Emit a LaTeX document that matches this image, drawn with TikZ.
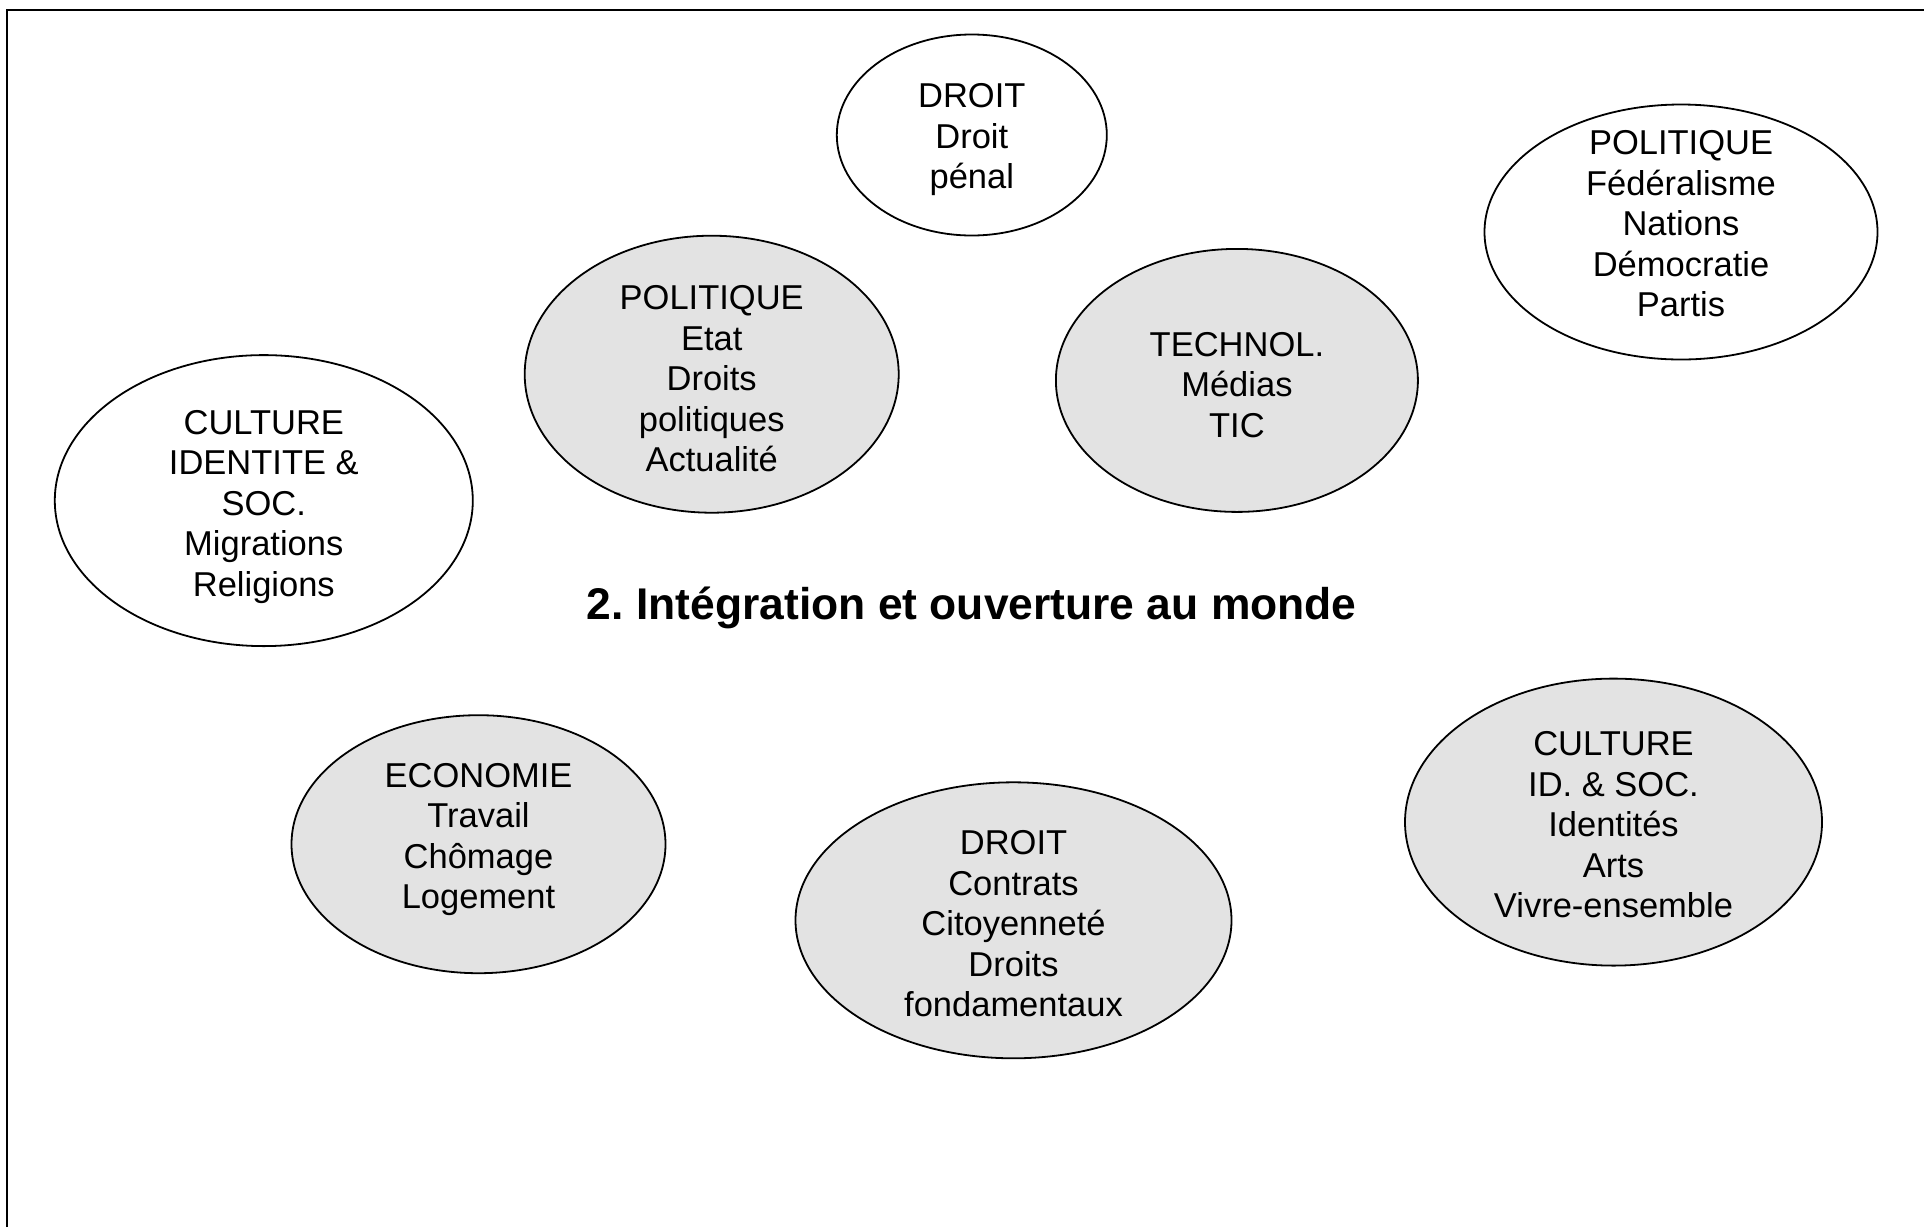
\documentclass[tikz,border=0pt]{standalone}
\usepackage{fontspec}
\setmainfont{Liberation Sans}
\usetikzlibrary{shapes.geometric}
\frenchspacing

\begin{document}
\begin{tikzpicture}[
        x=1pt, y=-1pt, % One unit is one pixel of the scan, y grows downwards
        % Define a style for the plain ellipses
        open_bubble/.style={ellipse,draw,line width=1.8pt,inner sep=0pt},
        % Define a style for the shaded ellipses
        shaded_bubble/.style={open_bubble,fill=black!11},
        % Define a style for the words inside the ellipses
        bubble_text/.style={align=center,inner sep=0pt,yshift=-3.5pt,font=\fontsize{34.5}{40.5}\selectfont},
        % Define a style for the title in the middle
        title_text/.style={inner sep=0pt,font=\bfseries\fontsize{44.4}{50}\selectfont}
    ]

    % Fix the size of the page
    \useasboundingbox (0,0) rectangle (1924,1227);

    % Draw the frame (only top and left edges are visible)
    \coordinate (frame_bl) at (7,1227);
    \coordinate (frame_tl) at (7,10);
    \coordinate (frame_tr) at (1924,10);
    \draw[line width=2.5pt] (frame_bl) -- (frame_tl) -- (frame_tr);

    % Draw the plain ellipses
    \node[open_bubble,minimum width=270pt,minimum height=201pt] (droit_top) at (971.8,135) {};
    \node[open_bubble,minimum width=393pt,minimum height=255pt] (politique_right) at (1681,232) {};
    \node[open_bubble,minimum width=418pt,minimum height=291pt] (culture_left) at (263.8,500.6) {};

    % Draw the shaded ellipses
    \node[shaded_bubble,minimum width=374pt,minimum height=277pt] (politique_mid) at (711.7,374.2) {};
    \node[shaded_bubble,minimum width=362pt,minimum height=263pt] (technol) at (1236.9,380.4) {};
    \node[shaded_bubble,minimum width=374pt,minimum height=258pt] (economie) at (478.5,844.2) {};
    \node[shaded_bubble,minimum width=436pt,minimum height=276pt] (droit_bottom) at (1013.5,920.3) {};
    \node[shaded_bubble,minimum width=417pt,minimum height=287pt] (culture_right) at (1613.5,822.1) {};

    % Put the words in the ellipses
    \node[bubble_text] (droit_top_txt) at (971.8,136.2) {DROIT\\Droit\\pénal};
    \node[bubble_text] (politique_right_txt) at (1681,220.5) {POLITIQUE\\Fédéralisme\\Nations\\Démocratie\\Partis};
    \node[bubble_text] (culture_left_txt) at (263.8,503.1) {CULTURE\\IDENTITE \&\\SOC.\\Migrations\\Religions};
    \node[bubble_text] (politique_mid_txt) at (711.7,375.5) {POLITIQUE\\Etat\\Droits\\politiques\\Actualité};
    \node[bubble_text] (technol_txt) at (1236.9,381.6) {TECHNOL.\\Médias\\TIC};
    \node[bubble_text] (economie_txt) at (478.5,836.2) {ECONOMIE\\Travail\\Chômage\\Logement};
    \node[bubble_text] (droit_bottom_txt) at (1013.5,920.3) {DROIT\\Contrats\\Citoyenneté\\Droits\\fondamentaux};
    \node[bubble_text] (culture_right_txt) at (1613.5,821.5) {CULTURE\\ID. \& SOC.\\Identités\\Arts\\Vivre-ensemble};

    % Title
    \node[title_text] (title) at (971.8,607.5) {2. Intégration et ouverture au monde};

\end{tikzpicture}
\end{document}
